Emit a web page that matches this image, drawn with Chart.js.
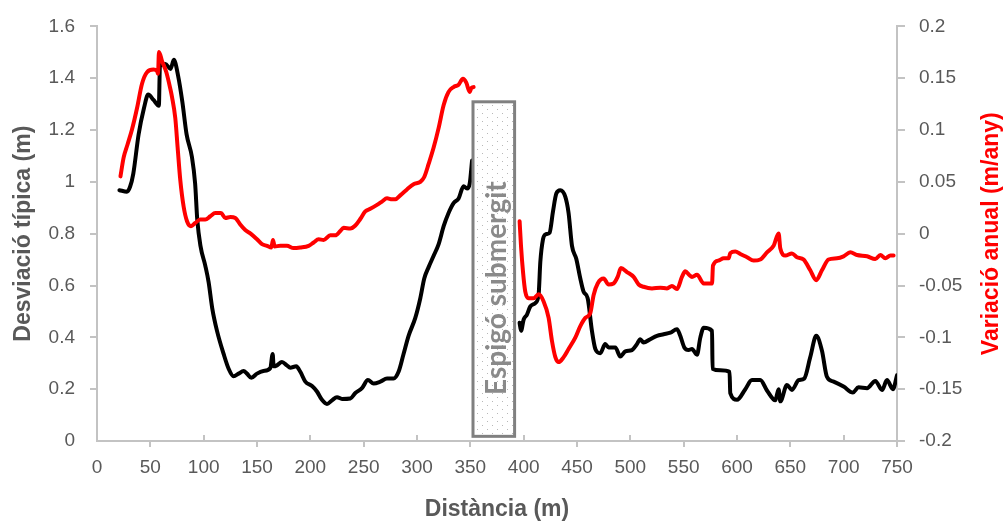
<!DOCTYPE html>
<html>
<head>
<meta charset="utf-8">
<script src="https://cdn.jsdelivr.net/npm/chart.js@4/dist/chart.umd.min.js"></script>
<style>
  html, body { margin: 0; padding: 0; background: #ffffff; }
  #wrap { width: 1006px; height: 522px; }
</style>
</head>
<body>
<div id="wrap"><canvas id="chart" width="1006" height="522"></canvas></div>
<script>
// Desviació típica (m) — tram oest i tram est de l'espigó
const stdWestDist = [21,28,31,34,39,44,48,53,58,59,64,69,72,76,80,84,89,92,94,97,101.5,104.6,108,112.5,118.7,123.4,128,132.8,137.4,140.6,144.7,150,156,162.5,164.7,165.6,168.7,173.4,178,181.2,186.8,190.6,195.3,201.6,206.2,210.9,215.6,220.3,225,229.7,237.5,242.2,248.4,254,259.3,265.6,271.9,278,282.7,287.4,292.1,298.4,303.1,306.8,310.9,315.6,320.3,325,329.6,334.3,339,343.7,346.9,349.4,351.6];
const stdWestVal  = [0.968,0.962,0.981,1.031,1.183,1.284,1.337,1.316,1.294,1.448,1.455,1.436,1.471,1.41,1.309,1.183,1.096,0.993,0.854,0.753,0.677,0.614,0.513,0.425,0.336,0.279,0.250,0.26,0.270,0.26,0.244,0.26,0.270,0.282,0.336,0.288,0.292,0.305,0.292,0.283,0.288,0.267,0.229,0.212,0.191,0.159,0.143,0.157,0.169,0.162,0.164,0.185,0.204,0.235,0.222,0.229,0.241,0.241,0.267,0.336,0.406,0.475,0.551,0.627,0.671,0.715,0.760,0.829,0.880,0.918,0.936,0.983,0.974,0.993,1.082];
const stdEastDist = [396.2,397.5,400,403.1,406.2,410.9,414,415.6,418.1,420.3,424.3,427.5,430.6,434.3,439,442.1,445.3,449.3,453.1,456.2,460,464,467.2,471.8,476.5,479.6,485.9,490.6,495.3,501.5,506.2,509.3,512.4,518.7,525,531.2,537.5,543.7,546.8,550.6,554.6,557.8,562.5,565.6,568.8,576.6,577.1,584.4,593,593.7,600,607.8,614,621.8,628.1,635.9,639,640.6,646.8,651.5,657.8,663,668.7,674.3,679.6,684.3,690.6,699.9,708.7,713.9,721.9,729.7,736,740.6,746.2,750];
const stdEastVal  = [0.456,0.425,0.469,0.488,0.519,0.532,0.564,0.69,0.778,0.797,0.804,0.886,0.955,0.968,0.943,0.880,0.753,0.703,0.627,0.576,0.551,0.425,0.355,0.339,0.374,0.361,0.361,0.326,0.346,0.351,0.374,0.393,0.380,0.393,0.406,0.412,0.418,0.431,0.406,0.361,0.351,0.355,0.333,0.399,0.437,0.425,0.279,0.273,0.267,0.185,0.159,0.2,0.235,0.235,0.195,0.157,0.2,0.153,0.216,0.197,0.235,0.241,0.324,0.406,0.349,0.248,0.229,0.21,0.187,0.207,0.204,0.232,0.197,0.235,0.2,0.254];

// Variació anual (m/any)
const varWestDist = [22,25,28.7,32.8,37.5,42.2,46.9,53,56.2,57.2,58.1,60.9,65,68.7,70.3,73.4,75.6,78.1,81.2,84.4,88.1,92.2,96.8,101.5,106.2,110.9,116.2,120.3,125,129.7,134.3,139,143.7,150,154.7,159.4,163.4,165,166.5,171.8,178.1,184.3,190.6,198.4,203.1,207.8,212.5,218.7,223.4,228.1,231.2,237.5,242.2,246.8,251.5,256.2,262.5,267.2,271.9,276.6,279.7,284.3,290.6,296.8,303.1,306.8,310.9,315.6,320.3,325,329.6,334.3,339,343.1,346.2,349.4,350.9,353.1];
const varWestVal  = [0.0553,0.0736,0.0863,0.1005,0.121,0.1447,0.1558,0.1583,0.1573,0.1542,0.1754,0.1668,0.1558,0.14,0.132,0.1115,0.0831,0.0515,0.0262,0.012,0.0073,0.0104,0.0136,0.0136,0.0168,0.0199,0.0199,0.0152,0.0161,0.0152,0.0088,0.0035,0.0003,-0.0054,-0.0101,-0.0117,-0.0133,-0.006,-0.0123,-0.0117,-0.0117,-0.0139,-0.0133,-0.0117,-0.0085,-0.0054,-0.006,-0.0016,-0.0016,0.0026,0.0057,0.005,0.0079,0.0142,0.0215,0.024,0.0278,0.031,0.0341,0.0332,0.0332,0.037,0.0427,0.0477,0.05,0.0547,0.0673,0.0831,0.1021,0.1242,0.1368,0.1415,0.1438,0.1495,0.1457,0.1368,0.1406,0.1415];
const varEastDist = [396.2,397.5,399.4,401.5,404.6,409.3,414,418.7,423.4,426.5,429.7,432.8,437.5,442.1,448.4,453.1,457.8,462.5,465.6,469.4,475,479.6,484.3,488.1,491.2,496.8,503.1,507.8,512.4,520.3,528.1,534.4,539,543.7,548.4,551.5,555.5,557.8,562.5,568.8,576.6,577.5,582.8,587.5,592.2,593.7,598.4,603.1,609.4,615.6,621.8,628.1,634.3,639,640.6,645.3,651.5,656.2,662.4,668.7,674.3,679.6,685.8,693.7,699.9,706.2,712.5,721.9,729.7,734.4,739.1,743.8,746.8];
const varEastVal  = [0.012,-0.0117,-0.037,-0.0559,-0.0623,-0.0623,-0.0585,-0.0654,-0.0812,-0.1033,-0.1191,-0.1239,-0.1191,-0.1112,-0.1002,-0.0891,-0.0812,-0.0765,-0.0591,-0.048,-0.0433,-0.049,-0.048,-0.0417,-0.0332,-0.037,-0.0417,-0.049,-0.0512,-0.0528,-0.0521,-0.0528,-0.0505,-0.0534,-0.0417,-0.0363,-0.0401,-0.0417,-0.0395,-0.048,-0.048,-0.0306,-0.0259,-0.0237,-0.0237,-0.0187,-0.0171,-0.0196,-0.0227,-0.0259,-0.0249,-0.018,-0.0117,0.0003,-0.0142,-0.0211,-0.019,-0.0227,-0.0249,-0.0353,-0.0448,-0.0353,-0.0249,-0.0237,-0.0218,-0.018,-0.0205,-0.0218,-0.0244,-0.0205,-0.0237,-0.0211,-0.0211];

// Tick labels
const distTicks  = [0,50,100,150,200,250,300,350,400,450,500,550,600,650,700,750];
const stdTicks   = [0,0.2,0.4,0.6,0.8,1,1.2,1.4,1.6];
const varTicks   = [-0.2,-0.15,-0.1,-0.05,0,0.05,0.1,0.15,0.2];

// Submerged groyne: extent in distance (m) and on the left axis (m)
const groyneFrom = 352.5, groyneTo = 391.5;
const groyneTop = 1.309, groyneBottom = 0.018;
const groyneLabel = 'Espigó submergit';
const groyneLabelAt = 0.59;

const AXIS_GREY = '#c3c3c3';
const TEXT_GREY = '#595959';
const FONT = "'Liberation Sans', Arial, sans-serif";

const pts = (xs, ys) => xs.map((x, i) => ({ x, y: ys[i] }));

function makeDotPattern(ctx) {
  const tile = document.createElement('canvas');
  tile.width = 10; tile.height = 8;
  const t = tile.getContext('2d');
  t.fillStyle = '#ffffff';
  t.fillRect(0, 0, 10, 8);
  t.fillStyle = '#b8b8b8';
  t.fillRect(2, 1, 1, 1);
  t.fillRect(7, 5, 1, 1);
  return ctx.createPattern(tile, 'repeat');
}

const decorations = {
  id: 'decorations',
  beforeDatasetsDraw(chart) {
    // inward tick marks at each hundred metres
    const { ctx, scales: { x } } = chart;
    ctx.save();
    ctx.strokeStyle = AXIS_GREY;
    ctx.lineWidth = 2;
    distTicks.filter(v => v > 0 && v % 100 === 0).forEach(v => {
      const px = Math.round(x.getPixelForValue(v));
      ctx.beginPath();
      ctx.moveTo(px, x.top);
      ctx.lineTo(px, x.top - 6);
      ctx.stroke();
    });
    ctx.restore();
  },
  afterDatasetsDraw(chart) {
    const { ctx, scales: { x, y } } = chart;
    const left = x.getPixelForValue(groyneFrom);
    const right = x.getPixelForValue(groyneTo);
    const top = y.getPixelForValue(groyneTop);
    const bottom = y.getPixelForValue(groyneBottom);
    ctx.save();
    ctx.fillStyle = makeDotPattern(ctx);
    ctx.fillRect(left, top, right - left, bottom - top);
    ctx.strokeStyle = '#808080';
    ctx.lineWidth = 3;
    ctx.strokeRect(left, top, right - left, bottom - top);
    ctx.translate((left + right) / 2 + 12.5, y.getPixelForValue(groyneLabelAt));
    ctx.rotate(-Math.PI / 2);
    ctx.fillStyle = '#8a8a8a';
    ctx.font = "bold 28px Lato, 'Open Sans', sans-serif";
    ctx.textAlign = 'center';
    ctx.textBaseline = 'alphabetic';
    ctx.fillText(groyneLabel, 0, 0);
    ctx.restore();
  },
  afterDraw(chart) {
    // right-hand axis title, read bottom to top
    const { ctx, scales: { y2 }, chartArea } = chart;
    ctx.save();
    ctx.translate(y2.right - 14, (chartArea.top + chartArea.bottom) / 2);
    ctx.rotate(-Math.PI / 2);
    ctx.fillStyle = '#ff0000';
    ctx.font = 'bold 23px ' + FONT;
    ctx.textAlign = 'center';
    ctx.textBaseline = 'middle';
    ctx.fillText('Variació anual (m/any)', 0, 0);
    ctx.restore();
  }
};

const lineStyle = {
  borderWidth: 4,
  pointRadius: 0,
  fill: false,
  cubicInterpolationMode: 'monotone',
  borderJoinStyle: 'round',
  borderCapStyle: 'round'
};

new Chart(document.getElementById('chart'), {
  type: 'line',
  data: {
    datasets: [
      { ...lineStyle, label: 'Variació anual (oest)', data: pts(varWestDist, varWestVal), borderColor: '#ff0000', yAxisID: 'y2', order: 0 },
      { ...lineStyle, label: 'Variació anual (est)', data: pts(varEastDist, varEastVal), borderColor: '#ff0000', yAxisID: 'y2', order: 0 },
      { ...lineStyle, label: 'Desviació típica (oest)', data: pts(stdWestDist, stdWestVal), borderColor: '#000000', yAxisID: 'y', order: 1 },
      { ...lineStyle, label: 'Desviació típica (est)', data: pts(stdEastDist, stdEastVal), borderColor: '#000000', yAxisID: 'y', order: 1 }
    ]
  },
  options: {
    responsive: false,
    animation: false,
    devicePixelRatio: 1,
    layout: { padding: { top: 20, left: 0, right: 0, bottom: 0 } },
    plugins: { legend: { display: false }, tooltip: { enabled: false } },
    scales: {
      x: {
        type: 'linear',
        min: 0, max: 750,
        afterBuildTicks: s => { s.ticks = distTicks.map(v => ({ value: v })); },
        afterFit: s => { s.height = 81; },
        border: { color: AXIS_GREY, width: 2 },
        grid: {
          drawOnChartArea: false, drawTicks: true, tickLength: 6, lineWidth: 2,
          color: c => (c.tick && c.tick.value % 100 === 50) ? AXIS_GREY : 'rgba(0,0,0,0)'
        },
        ticks: { autoSkip: false, maxRotation: 0, padding: 9, color: TEXT_GREY, font: { family: FONT, size: 19 } },
        title: { display: true, text: 'Distància (m)', color: TEXT_GREY, padding: { top: 0, bottom: -1 }, font: { family: FONT, size: 23, weight: 'bold' } }
      },
      y: {
        position: 'left',
        min: 0, max: 1.6,
        afterBuildTicks: s => { s.ticks = stdTicks.map(v => ({ value: v })); },
        afterFit: s => { s.width = 97; },
        border: { color: AXIS_GREY, width: 2 },
        grid: {
          drawOnChartArea: false, drawTicks: true, tickLength: 7, lineWidth: 2,
          color: c => (c.tick && c.tick.value === 0) ? 'rgba(0,0,0,0)' : AXIS_GREY
        },
        ticks: { padding: 15, color: TEXT_GREY, font: { family: FONT, size: 19 }, callback: v => String(Math.round(v * 10) / 10) },
        title: { display: true, text: 'Desviació típica (m)', color: TEXT_GREY, padding: { top: 10, bottom: 0 }, font: { family: FONT, size: 23, weight: 'bold' } }
      },
      y2: {
        position: 'right',
        min: -0.2, max: 0.2,
        afterBuildTicks: s => { s.ticks = varTicks.map(v => ({ value: v })); },
        afterFit: s => { s.width = 109; },
        border: { color: AXIS_GREY, width: 2 },
        grid: { drawOnChartArea: false, drawTicks: true, tickLength: 8, lineWidth: 2, color: AXIS_GREY },
        ticks: { padding: 14, color: TEXT_GREY, font: { family: FONT, size: 19 }, callback: v => String(Math.round(v * 100) / 100) }
      }
    }
  },
  plugins: [decorations]
});
</script>
</body>
</html>
